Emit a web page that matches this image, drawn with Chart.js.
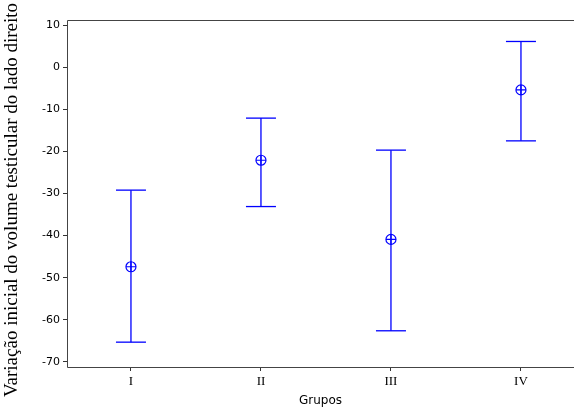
<!DOCTYPE html>
<html>
<head>
<meta charset="utf-8">
<script src="https://cdn.jsdelivr.net/npm/chart.js@4.4.0/dist/chart.umd.min.js"></script>
<style>
  html, body { margin: 0; padding: 0; background: #fff; }
  #wrap { width: 576px; height: 410px; }
</style>
</head>
<body>
<div id="wrap"><canvas id="myChart" width="576" height="410"></canvas></div>
<script>
// grupos e valores
var grupos = ["I", "II", "III", "IV"];
var medias = [-47.4, -22.1, -40.9, -5.4];
var limiteSup = [-29.2, -12.1, -19.7, 6.1];
var limiteInf = [-65.3, -33.1, -62.6, -17.5];
var yTicks = [10, 0, -10, -20, -30, -40, -50, -60, -70];
var tituloY = "Variação inicial do volume testicular do lado direito";

var azul = "#0000ff";

var mediaPts = medias.map((v, i) => ({ x: i + 1, y: v }));
var capPts = [];
for (var i = 0; i < grupos.length; i++) {
  capPts.push({ x: i + 1, y: limiteSup[i] });
  capPts.push({ x: i + 1, y: limiteInf[i] });
}

// desenha as linhas verticais dos intervalos, a moldura e o titulo do eixo y
const whiskers = {
  id: "whiskers",
  beforeDatasetsDraw(chart) {
    const ctx = chart.ctx;
    const xs = chart.scales.x;
    const ys = chart.scales.y;
    ctx.save();
    ctx.strokeStyle = azul;
    ctx.lineWidth = 1.3;
    for (var i = 0; i < grupos.length; i++) {
      var px = xs.getPixelForValue(i + 1);
      ctx.beginPath();
      ctx.moveTo(px, ys.getPixelForValue(limiteSup[i]));
      ctx.lineTo(px, ys.getPixelForValue(limiteInf[i]));
      ctx.stroke();
    }
    ctx.restore();
  },
  afterDraw(chart) {
    const ctx = chart.ctx;
    const a = chart.chartArea;
    ctx.save();
    ctx.strokeStyle = "#444";
    ctx.lineWidth = 1;
    ctx.beginPath();
    ctx.moveTo(a.left + 0.5, a.bottom + 0.5);
    ctx.lineTo(a.left + 0.5, a.top + 0.5);
    ctx.lineTo(a.right, a.top + 0.5);
    ctx.moveTo(a.left + 0.5, a.bottom + 0.5);
    ctx.lineTo(a.right, a.bottom + 0.5);
    ctx.stroke();

    // titulo do eixo y centrado na altura do grafico
    ctx.translate(12, 200);
    ctx.rotate(-Math.PI / 2);
    ctx.fillStyle = "#000";
    ctx.font = "19px 'Liberation Serif'";
    ctx.textAlign = "center";
    ctx.textBaseline = "middle";
    ctx.fillText(tituloY, 0, 0);
    ctx.restore();
  }
};

const ctx = document.getElementById("myChart").getContext("2d");
let myChart = new Chart(ctx, {
  type: "scatter",
  data: {
    datasets: [
      {
        label: "caps",
        data: capPts,
        pointStyle: "line",
        pointRadius: 15,
        borderColor: azul,
        borderWidth: 1.3,
      },
      {
        label: "media",
        data: mediaPts,
        pointStyle: "circle",
        pointRadius: 5,
        backgroundColor: "rgba(0,0,0,0)",
        borderColor: azul,
        borderWidth: 1.2,
      },
      {
        label: "media+",
        data: mediaPts,
        pointStyle: "cross",
        pointRadius: 5,
        borderColor: azul,
        borderWidth: 1.2,
      },
    ],
  },
  options: {
    responsive: false,
    animation: false,
    layout: { autoPadding: false, padding: { top: 20, right: 2, left: 0, bottom: 0 } },
    plugins: {
      legend: { display: false },
      tooltip: { enabled: false },
    },
    elements: { point: { hoverRadius: 5 } },
    scales: {
      x: {
        type: "linear",
        min: 0.508,
        max: 4.408,
        afterBuildTicks: (s) => {
          s.ticks = grupos.map((g, i) => ({ value: i + 1 }));
        },
        afterFit: (s) => { s.height = 43; },
        ticks: {
          callback: (v) => grupos[v - 1],
          color: "#000",
          font: { family: "Liberation Serif", size: 13 },
          padding: 3,
          maxRotation: 0,
        },
        grid: {
          drawOnChartArea: false,
          tickLength: 4,
          color: "#333",
        },
        border: { display: false },
        title: {
          display: true,
          text: "Grupos",
          color: "#000",
          font: { family: "DejaVu Sans", size: 12 },
          padding: { top: 0, bottom: 2 },
        },
      },
      y: {
        min: -71.2,
        max: 11.2,
        afterBuildTicks: (s) => {
          s.ticks = yTicks.map((v) => ({ value: v }));
        },
        afterFit: (s) => { s.width = 67; },
        ticks: {
          color: "#000",
          font: { family: "DejaVu Sans", size: 11 },
          padding: 3,
        },
        grid: {
          drawOnChartArea: false,
          tickLength: 4,
          color: "#333",
        },
        border: { display: false },
      },
    },
  },
  plugins: [whiskers],
});
</script>
</body>
</html>
